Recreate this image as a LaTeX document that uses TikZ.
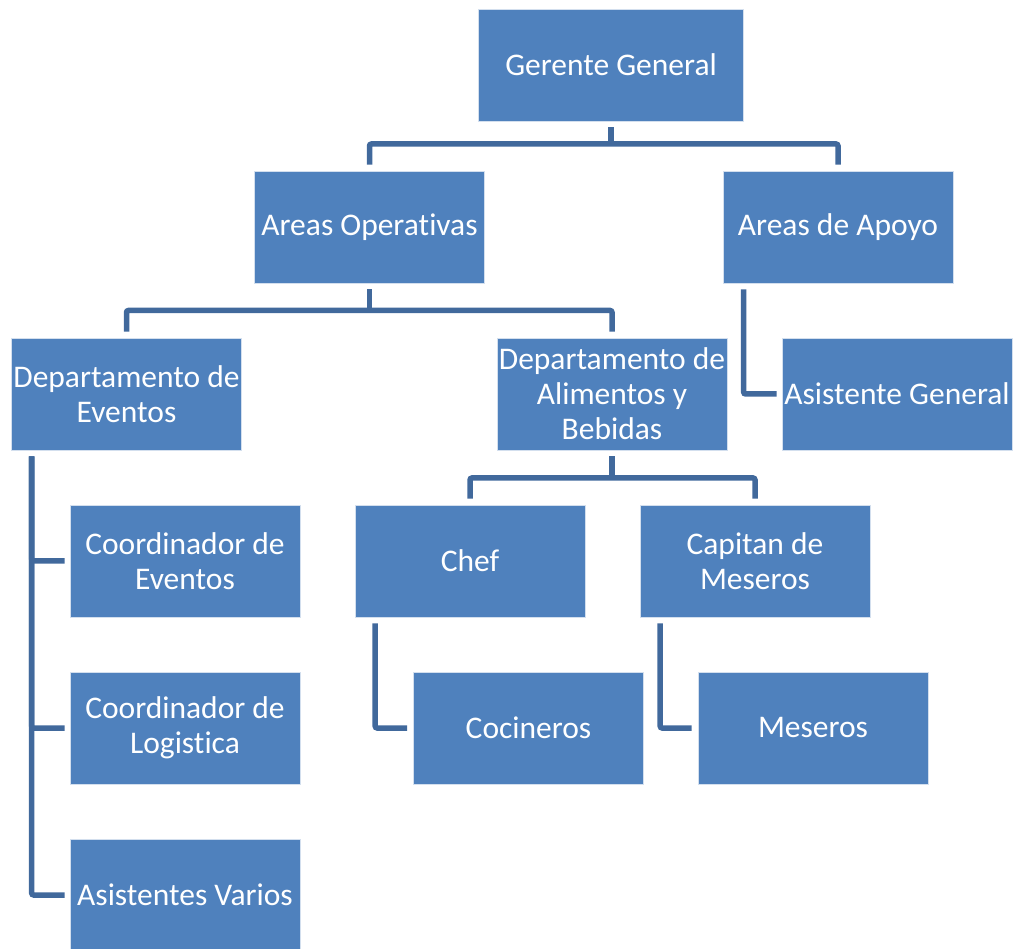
\documentclass[tikz,border=0pt]{standalone}
\usepackage{fontspec}
\setmainfont[Ligatures={NoCommon}]{Carlito}
\usepackage{tikz}
\usetikzlibrary{calc, positioning}

\definecolor{boxblue}{HTML}{4F81BD}
\definecolor{lineblue}{HTML}{41699C}

\begin{document}
\begin{tikzpicture}[x=1pt, y=-1pt,
    box/.style={rectangle, fill=boxblue, draw=white!75!boxblue, line width=0.6pt, text=white,
        minimum width=230pt, minimum height=112pt, align=center, inner sep=0pt,
        font=\fontsize{31.5}{35}\selectfont},
    conn/.style={lineblue, line width=5.5pt, rounded corners=2pt}]
            \useasboundingbox (0,0) rectangle (1021,949);
            \clip (0,0) rectangle (1021,949);

            % boxes
            \node[box, minimum width=265pt] (ger) at (611,65) {Gerente General};
            \node[box] (ops) at (369.5,227) {Areas Operativas};
            \node[box] (apo) at (838,227) {Areas de Apoyo};
            \node[box] (eve) at (126.5,394) {Departamento de\\Eventos};
            \node[box] (ayb) at (612,394) {Departamento de\\Alimentos y\\Bebidas};
            \node[box] (asg) at (897,394) {Asistente General};
            \node[box] (coe) at (185,561) {Coordinador de\\Eventos};
            \node[box] (chef) at (470,561) {Chef};
            \node[box] (cap) at (755,561) {Capitan de\\Meseros};
            \node[box] (col) at (185,728) {Coordinador de\\Logistica};
            \node[box] (coc) at (528.5,728) {Cocineros};
            \node[box] (mes) at (813,728) {Meseros};
            \node[box] (asv) at (185,895) {Asistentes Varios};

            % connectors
            \coordinate (bus1) at (611,144);
            \draw[conn] ([yshift=-6pt]ger.south) -- (bus1);
            \draw[conn] ([yshift=6pt]ops.north) |- (bus1) -| ([yshift=6pt]apo.north);

            \coordinate (bus2) at (369.5,310.5);
            \draw[conn] ([yshift=-6pt]ops.south) -- (bus2);
            \draw[conn] ([yshift=6pt]eve.north) |- (bus2) -| ([yshift=6pt]ayb.north);

            \coordinate (bus3) at (612,478);
            \draw[conn] ([yshift=-6pt]ayb.south) -- (bus3);
            \draw[conn] ([yshift=6pt]chef.north) |- (bus3) -| ([yshift=6pt]cap.north);

            \draw[conn] ($(apo.south west)+(21,6)$) |- ([xshift=-5pt]asg.west);

            \draw[conn] ($(eve.south west)+(20.5,6)$) |- ([xshift=-5pt]coe.west);
            \draw[conn] ($(eve.south west)+(20.5,6)$) |- ([xshift=-5pt]col.west);
            \draw[conn] ($(eve.south west)+(20.5,6)$) |- ([xshift=-5pt]asv.west);

            \draw[conn] ($(chef.south west)+(20.5,6)$) |- ([xshift=-6pt]coc.west);
            \draw[conn] ($(cap.south west)+(20.5,6)$) |- ([xshift=-6pt]mes.west);
        \end{tikzpicture}
\end{document}
